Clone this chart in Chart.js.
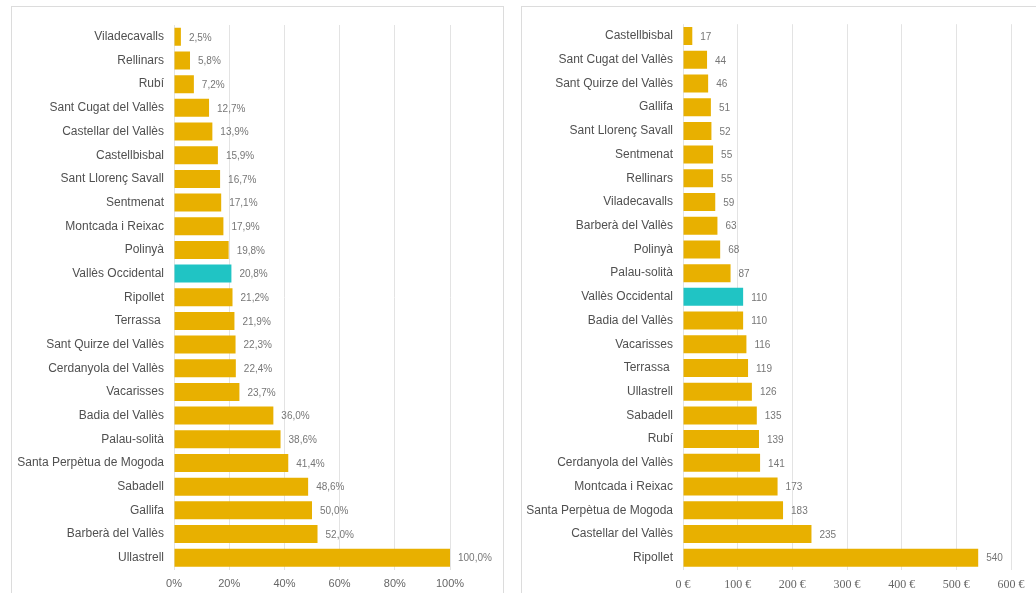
<!DOCTYPE html>
<html lang="ca">
<head>
  <meta charset="utf-8">
  <title>Vallès Occidental</title>
  <script src="https://cdn.jsdelivr.net/npm/chart.js"></script>
  <style>
    body {
      margin: 0;
      background: #ffffff;
      width: 1036px;
      height: 593px;
      overflow: hidden;
      position: relative;
      font-family: "Liberation Sans", Arial, sans-serif;
    }
    .panel {
      position: absolute;
      top: 6px;
      height: 620px;
      border: 1px solid #dcdcdc;
      box-sizing: border-box;
    }
    .chart-box {
      position: absolute;
      left: 0;
      top: 0;
      height: 587px;
    }
  </style>
</head>
<body>
  <div class="panel" style="left:11px; width:493px;">
    <div class="chart-box" style="width:492px;"><canvas id="pctChart"></canvas></div>
  </div>
  <div class="panel" style="left:521px; width:540px;">
    <div class="chart-box" style="width:515px;"><canvas id="euroChart"></canvas></div>
  </div>

  <script>
    // left chart: percentages
    const pctLabels = ['Viladecavalls', 'Rellinars', 'Rubí', 'Sant Cugat del Vallès', 'Castellar del Vallès',
      'Castellbisbal', 'Sant Llorenç Savall', 'Sentmenat', 'Montcada i Reixac', 'Polinyà', 'Vallès Occidental',
      'Ripollet', 'Terrassa ', 'Sant Quirze del Vallès', 'Cerdanyola del Vallès', 'Vacarisses', 'Badia del Vallès',
      'Palau-solità', 'Santa Perpètua de Mogoda', 'Sabadell', 'Gallifa', 'Barberà del Vallès', 'Ullastrell'];
    const pctValues = [2.5, 5.8, 7.2, 12.7, 13.9, 15.9, 16.7, 17.1, 17.9, 19.8, 20.8, 21.2, 21.9, 22.3, 22.4,
      23.7, 36.0, 38.6, 41.4, 48.6, 50.0, 52.0, 100.0];
    const pctTicks = [0, 20, 40, 60, 80, 100];

    // right chart: euros
    const euroLabels = ['Castellbisbal', 'Sant Cugat del Vallès', 'Sant Quirze del Vallès', 'Gallifa',
      'Sant Llorenç Savall', 'Sentmenat', 'Rellinars', 'Viladecavalls', 'Barberà del Vallès', 'Polinyà',
      'Palau-solità', 'Vallès Occidental', 'Badia del Vallès', 'Vacarisses', 'Terrassa ', 'Ullastrell',
      'Sabadell', 'Rubí', 'Cerdanyola del Vallès', 'Montcada i Reixac', 'Santa Perpètua de Mogoda',
      'Castellar del Vallès', 'Ripollet'];
    const euroValues = [17, 44, 46, 51, 52, 55, 55, 59, 63, 68, 87, 110, 110, 116, 119, 126, 135, 139, 141,
      173, 183, 235, 540];
    const euroTicks = [0, 100, 200, 300, 400, 500, 600];

    const highlight = 'Vallès Occidental';
    const gold = '#E8B000';
    const teal = '#20C4C4';

    // small plugin to write the value next to each bar
    const valueLabels = {
      id: 'valueLabels',
      afterDatasetsDraw(chart, args, opts) {
        const ctx = chart.ctx;
        const meta = chart.getDatasetMeta(0);
        const data = chart.data.datasets[0].data;
        ctx.save();
        ctx.font = '10px "Liberation Sans", Arial, sans-serif';
        ctx.fillStyle = '#777777';
        ctx.textAlign = 'left';
        ctx.textBaseline = 'middle';
        meta.data.forEach(function(bar, i) {
          ctx.fillText(opts.format(data[i]), bar.x + 8, bar.y + 1);
        });
        ctx.restore();
      }
    };

    function makeChart(id, labels, values, ticks, tickFmt, tickFont, valueFmt, yWidth, topPad, rightPad) {
      const colors = labels.map(l => l === highlight ? teal : gold);
      return new Chart(document.getElementById(id), {
        type: 'bar',
        data: {
          labels: labels,
          datasets: [{
            data: values,
            backgroundColor: colors,
            borderWidth: 0,
            barPercentage: 0.76,
            categoryPercentage: 1.0
          }]
        },
        options: {
          indexAxis: 'y',
          responsive: true,
          maintainAspectRatio: false,
          animation: false,
          layout: { padding: { top: topPad, right: rightPad, left: 0, bottom: 0 } },
          plugins: {
            legend: { display: false },
            tooltip: { enabled: false },
            valueLabels: { format: valueFmt }
          },
          scales: {
            x: {
              min: ticks[0],
              max: ticks[ticks.length - 1],
              afterBuildTicks: function(scale) {
                scale.ticks = ticks.map(v => ({ value: v }));
              },
              afterFit: function(scale) { scale.height = 24.5; },
              grid: { color: '#e3e3e3', drawTicks: false },
              border: { display: false },
              ticks: {
                padding: 8,
                color: '#666666',
                font: tickFont,
                callback: tickFmt
              }
            },
            y: {
              afterFit: function(scale) { scale.width = yWidth; },
              grid: { display: false, drawTicks: false },
              border: { display: false },
              ticks: {
                padding: 10,
                color: '#505050',
                font: { family: '"Liberation Sans", Arial, sans-serif', size: 12 }
              }
            }
          }
        },
        plugins: [valueLabels]
      });
    }

    makeChart('pctChart', pctLabels, pctValues, pctTicks,
      v => v + '%',
      { family: '"Liberation Sans", Arial, sans-serif', size: 11 },
      v => v.toFixed(1).replace('.', ',') + '%',
      162, 18, 54);

    makeChart('euroChart', euroLabels, euroValues, euroTicks,
      v => v + ' €',
      { family: '"Liberation Serif", "Times New Roman", serif', size: 12 },
      v => String(v),
      161, 15, 26);
  </script>
</body>
</html>
